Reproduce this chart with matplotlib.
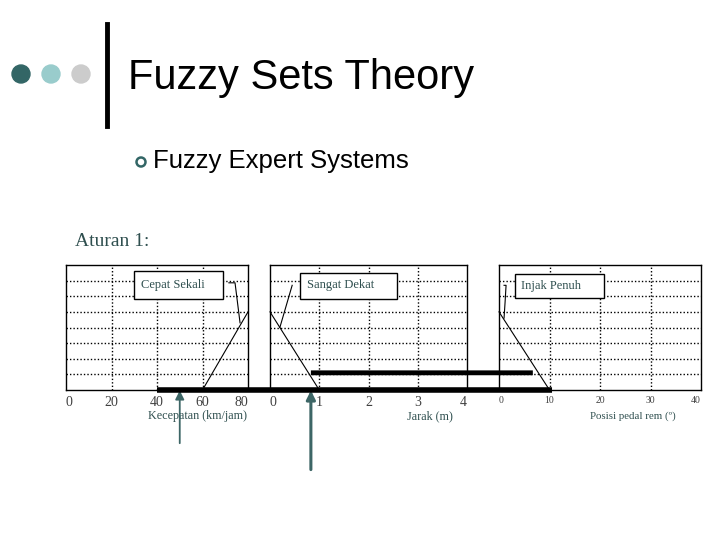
#encoding=utf-8
import matplotlib
matplotlib.use('Agg')
from matplotlib import pyplot as plt
from matplotlib.patches import Rectangle, Circle, ConnectionPatch

# slide text
title = 'Fuzzy Sets Theory'
subtitle = 'Fuzzy Expert Systems'
rule = 'Aturan 1:'

# panels: speed, distance, brake pedal
speed_ticks = [0, 20, 40, 60, 80]
dist_ticks = [0, 1, 2, 3, 4]
pedal_ticks = [0, 10, 20, 30, 40]
xlabels = ['Kecepatan (km/jam)', 'Jarak (m)', 'Posisi pedal rem (\u00ba)']
set_names = ['Cepat Sekali', 'Sangat Dekat', 'Injak Penuh']

# membership lines (x, y) on an 8-step grid
cepat_x, cepat_y = [60, 80], [0, 5]
dekat_x, dekat_y = [0, 1], [5, 0]
penuh_x, penuh_y = [0, 10], [5, 0]

# inputs and outputs
speed_in = 50
dist_in = 0.83
fire_level = 1.1
fire_end = 6.7
pedal_out = 10.5

W, H = 720, 540
dark = '#2f4f4f'
teal = '#3d6666'

fig = plt.figure(figsize=(7.2, 5.4), dpi=100, facecolor='w')

def pax(l, t, r, b):
    return fig.add_axes([l / W, 1 - b / H, (r - l) / W, (b - t) / H])

# decorations
deco = fig.add_axes([0, 0, 1, 1])
deco.set_xlim(0, W)
deco.set_ylim(H, 0)
deco.axis('off')
for cx, c in zip([21, 51, 81], ['#336666', '#99cccc', '#cccccc']):
    deco.add_patch(Circle((cx, 74), 9, color=c))
deco.plot([107, 107], [24, 126], color='k', lw=3.5)
deco.text(128, 78, title, fontsize=30, family='Liberation Sans', va='center', ha='left')
deco.add_patch(Circle((141, 162), 4.5, fill=False, ec='#336666', lw=1.8))
deco.text(153, 161, subtitle, fontsize=18.5, family='Liberation Sans', va='center', ha='left')
deco.text(75, 242, rule, fontsize=14, family='Liberation Serif', color=dark, va='center', ha='left')

ax1 = pax(66, 265, 248, 390)
ax2 = pax(270, 265, 467, 390)
ax3 = pax(499, 265, 701, 390)

panels = [
    (ax1, speed_ticks, cepat_x, cepat_y, 10),
    (ax2, dist_ticks, dekat_x, dekat_y, 10),
    (ax3, pedal_ticks, penuh_x, penuh_y, 7),
]
for ax, ticks, mx, my, fs in panels:
    ax.set_xlim(ticks[0], ticks[-1])
    ax.set_ylim(0, 8)
    ax.set_xticks(ticks)
    labs = ax.set_xticklabels([str(t) for t in ticks], family='Liberation Serif', fontsize=fs, color='#404040')
    labs[0].set_ha('left')
    labs[-1].set_ha('right')
    ax.set_yticks([])
    ax.tick_params(axis='x', length=0, pad=4)
    for t in ticks[1:-1]:
        ax.axvline(t, color='k', lw=1, ls=(0, (1, 1.5)))
    for k in range(1, 8):
        ax.axhline(k, color='k', lw=1, ls=(0, (1, 1.5)))
    for s in ax.spines.values():
        s.set_linewidth(1)
    ax.plot(mx, my, color='k', lw=0.8, clip_on=False)

ax1.text(0.72, -0.21, xlabels[0], transform=ax1.transAxes, ha='center', va='center',
         family='Liberation Serif', fontsize=8.7, color=dark)
ax2.text(0.81, -0.21, xlabels[1], transform=ax2.transAxes, ha='center', va='center',
         family='Liberation Serif', fontsize=8.7, color=dark)
ax3.text(0.66, -0.21, xlabels[2], transform=ax3.transAxes, ha='center', va='center',
         family='Liberation Serif', fontsize=7.8, color=dark)

# label boxes and leaders
ax1.add_patch(Rectangle((29.9, 5.83), 39.1, 1.8, fc='w', ec='k', lw=1, zorder=3))
ax1.text(33, 6.75, set_names[0], family='Liberation Serif', fontsize=9, color=dark, va='center', zorder=4)
ax1.plot([71.6, 74.3, 76.5], [6.86, 6.86, 4.3], color='k', lw=0.8)

ax2.add_patch(Rectangle((0.61, 5.83), 1.97, 1.67, fc='w', ec='k', lw=1, zorder=3))
ax2.text(0.75, 6.7, set_names[1], family='Liberation Serif', fontsize=9, color=dark, va='center', zorder=4)
ax2.plot([0.45, 0.2], [6.7, 4.0], color='k', lw=0.8)

ax3.add_patch(Rectangle((3.2, 5.9), 17.6, 1.54, fc='w', ec='k', lw=1, zorder=3))
ax3.text(4.4, 6.65, set_names[2], family='Liberation Serif', fontsize=9, color=dark, va='center', zorder=4)
ax3.plot([1.0, 1.4, 1.2, 1.0], [6.7, 6.7, 5.6, 4.6], color='k', lw=0.8)

# thick firing lines across panels
base = ConnectionPatch(xyA=(40, 0), coordsA=ax1.transData, xyB=(pedal_out, 0), coordsB=ax3.transData,
                       color='k', lw=4, capstyle='butt')
fig.add_artist(base)
fire = ConnectionPatch(xyA=(dist_in, fire_level), coordsA=ax2.transData, xyB=(fire_end, fire_level),
                       coordsB=ax3.transData, color='k', lw=3.5, capstyle='butt')
fig.add_artist(fire)

# input arrows
ax1.annotate('', xy=(speed_in, 0.15), xytext=(0, -42), textcoords='offset points',
             xycoords='data', annotation_clip=False,
             arrowprops=dict(arrowstyle='-|>', color=teal, lw=1.3, mutation_scale=13))
ax2.annotate('', xy=(dist_in, 0.15), xytext=(0, -61), textcoords='offset points',
             xycoords='data', annotation_clip=False,
             arrowprops=dict(arrowstyle='-|>', color=teal, lw=2.2, mutation_scale=13))

fig.savefig('out.png', dpi=100, facecolor='w')
